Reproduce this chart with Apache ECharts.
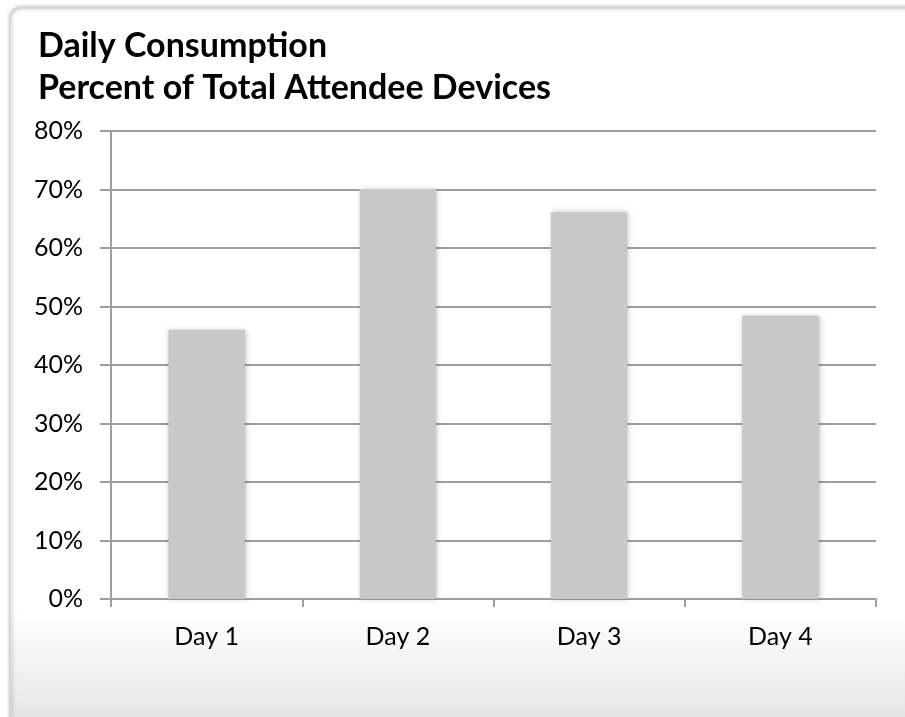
<!DOCTYPE html>
<html>
<head>
<meta charset="utf-8">
<script src="https://cdn.jsdelivr.net/npm/echarts@6/dist/echarts.min.js"></script>
<style>
html,body{margin:0;padding:0;background:#fff;}
#chart{width:905px;height:717px;}
</style>
</head>
<body>
<div id="chart"></div>
<script>
var categories = ['Day 1', 'Day 2', 'Day 3', 'Day 4'];
var values = [46, 70.1, 66.1, 48.4];
var yTicks = [0, 10, 20, 30, 40, 50, 60, 70, 80];
var titleLines = ['Daily Consumption', 'Percent of Total Attendee Devices'];

var chart = echarts.init(document.getElementById('chart'));
var gridColor = '#9e9e9e';
chart.setOption({
  animation: false,
  backgroundColor: '#ffffff',
  graphic: [{
    type: 'rect',
    left: 9, top: 7, z: -10,
    shape: { width: 905, height: 720, r: [10, 0, 0, 0] },
    style: {
      fill: new echarts.graphic.LinearGradient(0, 0, 0, 1, [
        { offset: 0, color: '#ffffff' },
        { offset: 0.84, color: '#ffffff' },
        { offset: 1, color: '#e3e3e3' }
      ]),
      stroke: '#d6d6d6',
      lineWidth: 2,
      shadowBlur: 4,
      shadowColor: 'rgba(0,0,0,0.25)',
      shadowOffsetX: 1
    }
  }],
  title: {
    text: titleLines.join('\n'),
    left: 33, top: 20,
    textStyle: {
      fontFamily: 'Lato', fontWeight: 'bold', fontSize: 34,
      color: '#000', lineHeight: 42
    }
  },
  grid: { left: 111, right: 29, top: 131, bottom: 118 },
  xAxis: {
    type: 'category',
    data: categories,
    axisLine: { lineStyle: { color: gridColor, width: 2 } },
    axisTick: { show: true, length: 8, lineStyle: { color: gridColor, width: 2 } },
    axisLabel: { fontFamily: 'Lato', fontSize: 25, color: '#000', margin: 25 }
  },
  yAxis: {
    type: 'value',
    min: 0, max: 80, interval: 10,
    axisLine: { show: true, lineStyle: { color: gridColor, width: 2 } },
    axisTick: { show: true, length: 11, lineStyle: { color: gridColor, width: 2 } },
    splitLine: { show: true, lineStyle: { color: gridColor, width: 2 } },
    axisLabel: {
      fontFamily: 'Lato', fontSize: 25, color: '#000', margin: 28,
      formatter: function (v) { return yTicks.indexOf(v) >= 0 ? v + '%' : ''; }
    }
  },
  series: [{
    type: 'bar',
    data: values,
    barWidth: '40%',
    itemStyle: {
      color: '#c8c8c8',
      shadowBlur: 5,
      shadowColor: 'rgba(0,0,0,0.25)',
      shadowOffsetX: 1
    }
  }]
});
</script>
</body>
</html>
